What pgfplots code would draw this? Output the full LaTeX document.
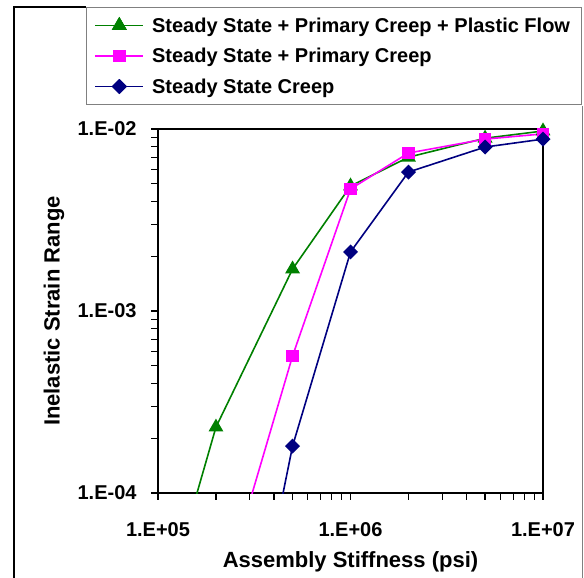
\documentclass[border=0pt]{standalone}
\usepackage{fontspec}
\setmainfont{Liberation Sans}
\usepackage{pgfplots}
\pgfplotsset{compat=1.18}
\definecolor{sgreen}{RGB}{0,128,0}
\definecolor{smag}{RGB}{255,0,255}
\definecolor{snavy}{RGB}{0,0,128}
\begin{document}
\begin{tikzpicture}[x=1pt,y=1pt]
\useasboundingbox (0,0) rectangle (584,578);
\draw[line width=1.3pt] (14,0) -- (14,571) -- (86,571);
\draw[gray,line width=1pt] (582,472) -- (582,0);
\begin{axis}[
  at={(158pt,85pt)},anchor=south west,
  scale only axis,width=385pt,height=364pt,
  xmode=log,ymode=log,
  xmin=1e5,xmax=1e7,ymin=1e-4,ymax=1e-2,
  axis line style={line width=1.8pt},
  tick pos=left,tick align=outside,
  major tick length=7pt,minor tick length=7pt,
  tick style={black,line width=1.2pt},
  xtick={1e5,1e6,1e7},xticklabels={1.E+05,1.E+06,1.E+07},
  minor xtick={2e5,3e5,4e5,5e5,6e5,7e5,8e5,9e5,2e6,3e6,4e6,5e6,6e6,7e6,8e6,9e6},
  ytick={1e-4,1e-3,1e-2},yticklabels={1.E-04,1.E-03,1.E-02},
  minor ytick={2e-4,3e-4,4e-4,5e-4,6e-4,7e-4,8e-4,9e-4,2e-3,3e-3,4e-3,5e-3,6e-3,7e-3,8e-3,9e-3},
  ticklabel style={font=\bfseries\fontsize{20}{24}\selectfont},
  xticklabel style={yshift=-19pt},
  yticklabel style={xshift=-11pt},
  label style={font=\bfseries\fontsize{22}{26}\selectfont},
  xlabel={Assembly Stiffness (psi)},
  ylabel={Inelastic Strain Range},
  xlabel style={at={(axis description cs:0.5,-0.19)},anchor=center},
  ylabel style={at={(axis description cs:-0.27,0.5)},anchor=center,rotate=0},
  legend style={at={(axis description cs:-0.187,1.335)},anchor=north west,
    draw=gray,line width=1pt,font=\bfseries\fontsize{20}{24}\selectfont,
    inner xsep=8pt,inner ysep=7pt,row sep=8.5pt,column sep=5pt,
    cells={anchor=west},nodes={inner sep=3pt}},
  legend image code/.code={
    \draw[#1] (0pt,0pt) -- (48pt,0pt);
    \draw[#1,only marks] plot coordinates {(24pt,0pt) (24pt,0pt) (24pt,0pt)};},
]
\addplot[sgreen,line width=1.6pt,mark=triangle*,mark size=7pt,mark indices={1,2,3,4,5,6},mark options={solid,fill=sgreen}]
  coordinates {(1e5,1.8e-5) (2e5,2.3e-4) (5e5,1.70e-3) (1e6,4.86e-3) (2e6,7.0e-3) (5e6,8.9e-3) (1e7,9.75e-3)};
\addlegendentry{Steady State + Primary Creep + Plastic Flow}
\addplot[smag,line width=1.6pt,mark=square*,mark size=5.5pt,mark indices={1,2,3,4,5},mark options={solid,fill=smag}]
  coordinates {(2e5,2.1e-5) (5e5,5.66e-4) (1e6,4.68e-3) (2e6,7.38e-3) (5e6,8.8e-3) (1e7,9.4e-3)};
\addlegendentry{Steady State + Primary Creep}
\addplot[snavy,line width=1.6pt,mark=square*,mark size=4.5pt,mark indices={1,2,3,4,5},mark options={solid,fill=snavy,rotate=45}]
  coordinates {(2e5,1.5e-6) (5e5,1.81e-4) (1e6,2.11e-3) (2e6,5.8e-3) (5e6,7.96e-3) (1e7,8.8e-3)};
\addlegendentry{Steady State Creep}
\end{axis}
\end{tikzpicture}
\end{document}
